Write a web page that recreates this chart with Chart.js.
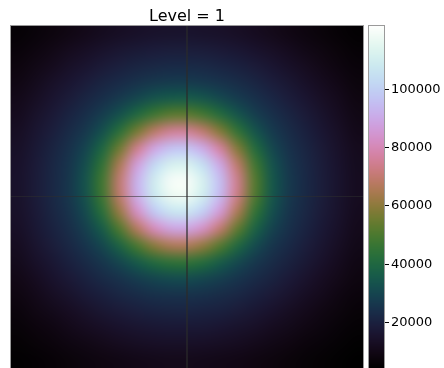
<!DOCTYPE html>
<html>
<head>
<meta charset="utf-8">
<script src="https://cdn.jsdelivr.net/npm/chart.js@4"></script>
<style>
  html, body { margin: 0; padding: 0; background: #fff; }
  #wrap { width: 444px; height: 368px; }
</style>
</head>
<body>
<div id="wrap"><canvas id="c" width="444" height="368"></canvas></div>
<script>
// Grid size of the intensity field (columns x rows)
const columnCount = 21;
const rowCount = 21;

// Intensity per cell, one array per row, top row first
const heat = [
  [6100,7100,8300,9500,10800,12100,13300,14300,15000,15300,15400,15000,14400,13500,12300,11100,9700,8450,7300,6200,5300],
  [7100,8400,9900,11600,13250,14900,16400,17500,18400,18800,18900,18500,17700,16600,15100,13500,11900,10100,8600,7300,6100],
  [8200,9900,11800,13900,15900,17900,19600,21000,22100,22600,22700,22200,21200,19900,18200,16300,14200,12200,10200,8500,7100],
  [9500,11500,13900,16300,18700,21000,23000,24800,26300,27300,27300,26400,25100,23300,21300,19000,16700,14200,11900,9800,8000],
  [10800,13200,15900,18600,21400,24100,26900,30300,33900,35800,36000,34300,30900,27500,24500,21800,19100,16300,13600,11200,9000],
  [12000,14800,17700,20800,24000,27900,33400,40600,47700,52600,52900,48700,41800,34500,28600,24500,21300,18200,15200,12400,9900],
  [13100,16100,19400,22800,26600,33100,43200,56100,67800,74800,75300,69200,58000,44900,34500,27500,23300,19900,16600,13600,10900],
  [14000,17200,20700,24400,29700,39600,55000,72900,87400,95400,96100,89100,75600,57800,41700,30800,25100,21300,17800,14500,11600],
  [14600,18000,21600,25700,32500,45200,65100,85900,101300,110600,111400,103400,88500,68600,48300,34000,26400,22200,18500,15100,12100],
  [14900,18300,22000,26200,34000,48600,70200,91600,108300,118900,119700,110500,94700,73800,51900,35600,27200,22600,18900,15400,12300],
  [14800,18200,21900,26100,33600,47800,68800,90100,106600,116500,117400,108600,93100,72500,50900,35200,26900,22500,18800,15300,12300],
  [14400,17700,21300,25200,31400,43300,61600,81400,96600,105300,106100,98300,84400,64800,45500,33000,26000,21900,18300,14900,11900],
  [13700,16800,20200,23800,28600,36500,50300,66300,80000,87700,88300,81800,68800,52800,38600,29500,24400,20800,17300,14200,11300],
  [12700,15600,18800,22000,25600,30600,38800,49300,59300,65500,66000,60600,51100,40400,31800,26200,22600,19300,16100,13100,10500],
  [11500,14200,17000,20000,22900,26100,30300,35700,41300,44600,44900,42000,36400,31100,26700,23400,20400,17500,14600,11900,9600],
  [10200,12500,15100,17700,20300,22800,25200,27800,30100,31700,31800,30300,28200,25600,23200,20700,18100,15500,12900,10600,8600],
  [9000,10900,13000,15300,17600,19700,21600,23200,24500,25200,25200,24600,23400,21900,20000,17900,15700,13400,11200,9200,7600],
  [7800,9300,11000,12900,14800,16700,18300,19600,20500,21000,21100,20600,19800,18500,16900,15100,13200,11300,9500,8000,6600],
  [6600,7900,9200,10700,12300,13800,15100,16200,17000,17400,17400,17100,16300,15300,14000,12500,11000,9400,8100,6800,5800],
  [5700,6600,7700,8800,9900,11100,12200,13000,13700,14000,14000,13800,13200,12400,11300,10100,8900,7800,6800,5800,5000],
  [4900,5600,6300,7200,8100,8900,9600,10300,10800,11100,11100,10900,10400,9800,9000,8200,7300,6500,5700,5000,4500]
];

// Colour bar range and tick labels
const levelMin = 4400;
const levelMax = 122000;
const levelTicks = [20000, 40000, 60000, 80000, 100000];

// Crosshair position (grid coordinates)
const crossX = 10.5;
const crossY = 10.5;

const FONT = 'DejaVu Sans';

// Green's cubehelix colour scheme (start 0.5, rotations -1.5, hue 1, gamma 1)
function cubehelix(t) {
  t = Math.max(0, Math.min(1, t));
  const a = t * (1 - t) / 2;
  const phi = 2 * Math.PI * (0.5 / 3 - 1.5 * t);
  const c = Math.cos(phi), s = Math.sin(phi);
  const r = t + a * (-0.14861 * c + 1.78277 * s);
  const g = t + a * (-0.29227 * c - 0.90649 * s);
  const b = t + a * (1.97294 * c);
  const cl = v => Math.round(255 * Math.max(0, Math.min(1, v)));
  return [cl(r), cl(g), cl(b)];
}
const norm = v => (v - levelMin) / (levelMax - levelMin);

// Paints the intensity field under the crosshair, scaled through the x/y scales
const heatmapPlugin = {
  id: 'heatmap',
  beforeDatasetsDraw(chart) {
    const { ctx, chartArea, scales } = chart;
    const off = document.createElement('canvas');
    off.width = columnCount; off.height = rowCount;
    const octx = off.getContext('2d');
    const img = octx.createImageData(columnCount, rowCount);
    for (let r = 0; r < rowCount; r++) {
      for (let c = 0; c < columnCount; c++) {
        const [R, G, B] = cubehelix(norm(heat[r][c]));
        const k = (r * columnCount + c) * 4;
        img.data[k] = R; img.data[k + 1] = G; img.data[k + 2] = B; img.data[k + 3] = 255;
      }
    }
    octx.putImageData(img, 0, 0);
    const x0 = scales.x.getPixelForValue(0), x1 = scales.x.getPixelForValue(columnCount);
    const y0 = scales.y.getPixelForValue(0), y1 = scales.y.getPixelForValue(rowCount);
    ctx.save();
    ctx.beginPath();
    ctx.rect(chartArea.left, chartArea.top, chartArea.width, chartArea.height);
    ctx.clip();
    ctx.imageSmoothingEnabled = true;
    ctx.imageSmoothingQuality = 'high';
    ctx.drawImage(off, x0, y0, x1 - x0, y1 - y0);
    ctx.restore();
  },
  afterDatasetsDraw(chart) {
    const { ctx, chartArea } = chart;
    ctx.save();
    ctx.strokeStyle = 'rgba(170,170,170,0.9)';
    ctx.lineWidth = 1;
    ctx.strokeRect(chartArea.left + 0.5, chartArea.top + 0.5, chartArea.width - 1, chartArea.height);
    ctx.restore();
  }
};

// Colour bar: moves the level axis to the right of the bar and fills the bar
const BAR_GAP = 4, BAR_WIDTH = 17;
const colorbarPlugin = {
  id: 'colorbar',
  afterLayout(chart) {
    const s = chart.scales.cb;
    const w = s.right - s.left;
    s.left = chart.chartArea.right + BAR_GAP + BAR_WIDTH;
    s.right = s.left + w;
  },
  afterDraw(chart) {
    const { ctx } = chart;
    const s = chart.scales.cb;
    const left = chart.chartArea.right + BAR_GAP;
    const top = Math.round(s.top), bottom = Math.round(s.bottom);
    ctx.save();
    for (let py = top; py < bottom; py++) {
      const [R, G, B] = cubehelix(norm(s.getValueForPixel(py + 0.5)));
      ctx.fillStyle = `rgb(${R},${G},${B})`;
      ctx.fillRect(left, py, BAR_WIDTH, 1);
    }
    ctx.strokeStyle = '#9a9a9a';
    ctx.lineWidth = 1;
    ctx.strokeRect(left + 0.5, top + 0.5, BAR_WIDTH - 1, bottom - top);
    ctx.restore();
  }
};

const lineStyle = {
  showLine: true, pointRadius: 0, borderWidth: 1,
  borderColor: 'rgba(45,45,45,0.55)', xAxisID: 'x', yAxisID: 'y'
};

new Chart(document.getElementById('c'), {
  type: 'scatter',
  data: {
    datasets: [
      Object.assign({ data: [{ x: crossX, y: 0 }, { x: crossX, y: rowCount }] }, lineStyle),
      Object.assign({ data: [{ x: 0, y: crossY }, { x: columnCount, y: crossY }] }, lineStyle)
    ]
  },
  options: {
    responsive: false,
    animation: false,
    devicePixelRatio: 1,
    layout: { padding: { left: 10, right: 0, top: 0, bottom: 0 } },
    plugins: {
      legend: { display: false },
      tooltip: { enabled: false },
      title: {
        display: true,
        text: 'Level = 1',
        fullSize: false,
        color: '#000',
        font: { family: FONT, size: 16, weight: 'normal', lineHeight: 1 },
        padding: { top: 9, bottom: 0 }
      }
    },
    scales: {
      x: { type: 'linear', min: 0, max: columnCount, display: false },
      y: { type: 'linear', min: 0, max: rowCount, reverse: true, display: false },
      cb: {
        type: 'linear',
        axis: 'y',
        position: 'right',
        min: levelMin,
        max: levelMax,
        afterFit(scale) {
          scale.width = 80;
          scale.paddingTop = 0;
          scale.paddingBottom = 0;
        },
        afterBuildTicks(scale) { scale.ticks = levelTicks.map(v => ({ value: v })); },
        grid: { drawOnChartArea: false, drawTicks: true, tickLength: 4, color: '#000', lineWidth: 1 },
        border: { display: false },
        ticks: {
          padding: 2,
          color: '#000',
          font: { family: FONT, size: 13 },
          callback: v => String(v)
        }
      }
    }
  },
  plugins: [heatmapPlugin, colorbarPlugin]
});
</script>
</body>
</html>
